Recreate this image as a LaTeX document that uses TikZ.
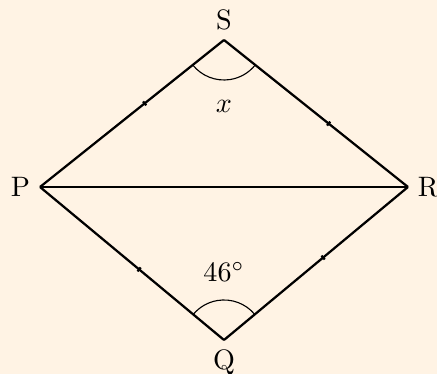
\documentclass[tikz,border=0pt]{standalone}
\usepackage{amsmath, amssymb}
\usepackage{xcolor}
\usepackage{tikz}
\usetikzlibrary{calc, decorations.markings}

\definecolor{paper}{HTML}{FFF3E4}

\tikzset{
  side/.style={thick, line join=round},
  tick/.style={postaction={decorate, decoration={markings,
    mark=at position #1 with {\draw[thick] (0,-0.9pt) -- (0,0.9pt);}}}},
  anglearc/.style={thin}
}

\begin{document}
\begin{tikzpicture}[x=0.0125cm, y=0.0125cm]
  % Background
  \fill[paper] (0,0) rectangle (437,374);
  \useasboundingbox (0,0) rectangle (437,374);

  % Vertices
  \coordinate (S) at (224,334);
  \coordinate (P) at (40,187);
  \coordinate (R) at (408,187);
  \coordinate (Q) at (224,34);

  % Sides with marks
  \draw[side, tick=0.57] (P) -- (S);
  \draw[side, tick=0.57] (S) -- (R);
  \draw[side, tick=0.54] (P) -- (Q);
  \draw[side, tick=0.54] (Q) -- (R);

  % Diagonal
  \draw[side] (P) -- (R);

  % Angles
  \draw[anglearc] ($(S)+(218.6:0.5cm)$) arc (218.6:321.4:0.5cm);
  \draw[anglearc] ($(Q)+(39.7:0.5cm)$) arc (39.7:140.3:0.5cm);

  % Labels
  \node[above] (lS) at (S) {S};
  \node[left]  (lP) at (P) {P};
  \node[right] (lR) at (R) {R};
  \node[below] (lQ) at (Q) {Q};
  \node (ax) at ($(S)+(0,-66)$) {$x$};
  \node (aq) at ($(Q)+(0,68)$) {$46^\circ$};
\end{tikzpicture}
\end{document}
